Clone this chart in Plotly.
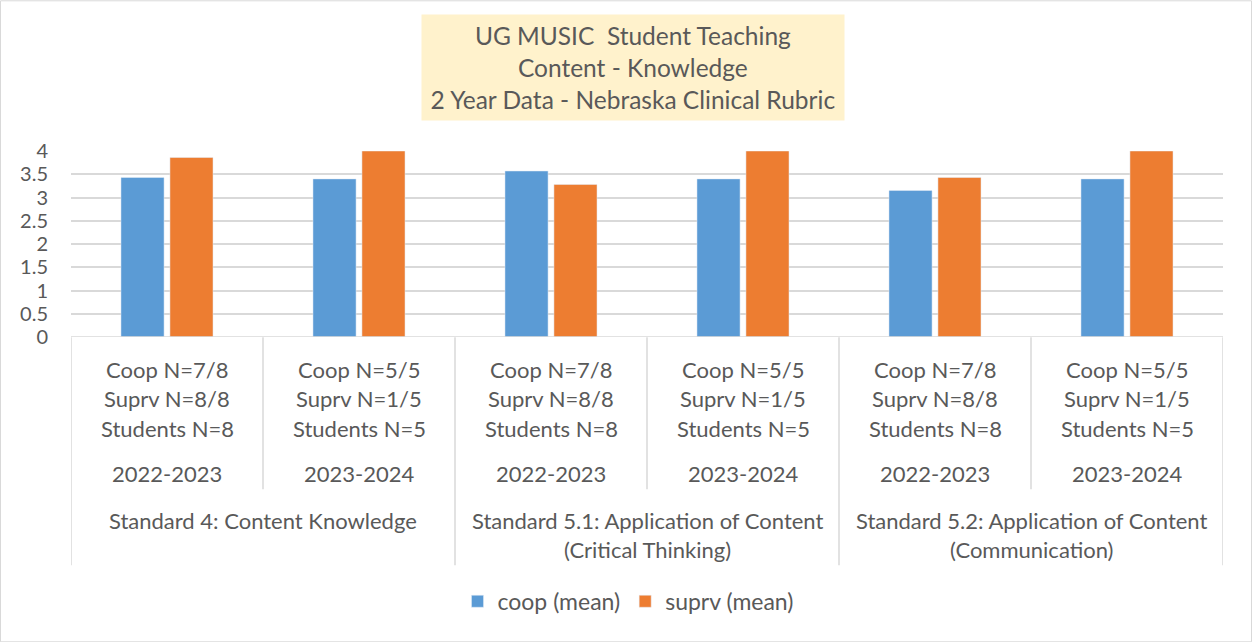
import plotly.graph_objects as go

# ---- data ----
years = ["2022-2023", "2023-2024", "2022-2023", "2023-2024", "2022-2023", "2023-2024"]
n_labels = [
    ["Coop N=7/8", "Suprv N=8/8", "Students N=8"],
    ["Coop N=5/5", "Suprv N=1/5", "Students N=5"],
    ["Coop N=7/8", "Suprv N=8/8", "Students N=8"],
    ["Coop N=5/5", "Suprv N=1/5", "Students N=5"],
    ["Coop N=7/8", "Suprv N=8/8", "Students N=8"],
    ["Coop N=5/5", "Suprv N=1/5", "Students N=5"],
]
standards = [
    ["Standard 4: Content Knowledge"],
    ["Standard 5.1: Application of Content", "(Critical Thinking)"],
    ["Standard 5.2: Application of Content", "(Communication)"],
]
coop_mean = [3.43, 3.40, 3.57, 3.40, 3.15, 3.40]
suprv_mean = [3.86, 4.00, 3.28, 4.00, 3.43, 4.00]
series_names = ["coop (mean)", "suprv (mean)"]
title_lines = ["UG MUSIC  Student Teaching", "Content - Knowledge", "2 Year Data - Nebraska Clinical Rubric"]

# ---- layout geometry (pixels) ----
W, H = 1252, 642
L, R, T, B = 71, 1223, 150.7, 336.7
FONT = "Lato"
TXT = "#595959"
GRID = "#D9D9D9"


def px(xp):
    return (xp - L) / (R - L)


def py(yp):
    return (B - yp) / (B - T)


xs = list(range(len(years)))
fig = go.Figure()
fig.add_trace(go.Bar(x=xs, y=coop_mean, name=series_names[0], marker_color="#5B9BD5"))
fig.add_trace(go.Bar(x=xs, y=suprv_mean, name=series_names[1], marker_color="#ED7D31"))

shapes = []
annotations = []
# axis line at 0
shapes.append(dict(type="line", xref="paper", yref="y", x0=0, x1=1, y0=0, y1=0,
                   line=dict(color=GRID, width=1.5), layer="above"))
# separators of the multi-level category axis
for i in range(len(years) + 1):
    full = (i % 2 == 0)
    y_end = 565 if full else 489
    shapes.append(dict(type="line", xref="x", yref="paper", x0=i - 0.5, x1=i - 0.5,
                       y0=py(337), y1=py(y_end), line=dict(color=GRID, width=1.5)))
# level 1 labels
for i, lines in enumerate(n_labels):
    for j, t in enumerate(lines):
        annotations.append(dict(x=i, y=py(369 + 29.5 * j), xref="x", yref="paper", text=t,
                                showarrow=False, yanchor="middle", xanchor="center",
                                font=dict(family=FONT, size=22, color=TXT)))
    annotations.append(dict(x=i, y=py(473), xref="x", yref="paper", text=years[i],
                            showarrow=False, yanchor="middle", xanchor="center",
                            font=dict(family=FONT, size=22, color=TXT)))
# level 2 labels
for g, lines in enumerate(standards):
    for j, t in enumerate(lines):
        annotations.append(dict(x=2 * g + 0.5, y=py(520 + 29 * j), xref="x", yref="paper", text=t,
                                showarrow=False, yanchor="middle", xanchor="center",
                                font=dict(family=FONT, size=22, color=TXT)))
# title box
annotations.append(dict(x=px(633), y=py(67.5), xref="paper", yref="paper",
                        text="<br>".join(title_lines), showarrow=False,
                        xanchor="center", yanchor="middle", align="center",
                        width=418, height=101, bgcolor="#FFF2CC", borderpad=2,
                        font=dict(family=FONT, size=24.5, color=TXT)))
# outer chart border
shapes.append(dict(type="rect", xref="paper", yref="paper", x0=px(0.5), x1=px(W - 0.5),
                   y0=py(H - 0.5), y1=py(0.5), line=dict(color=GRID, width=1), layer="below"))

fig.update_layout(
    width=W, height=H,
    margin=dict(l=L, r=W - R, t=T, b=H - B),
    paper_bgcolor="white", plot_bgcolor="white",
    barmode="group", bargap=0.49, bargroupgap=0.12,
    showlegend=True,
    legend=dict(orientation="h", x=px(628), xanchor="center", y=py(601), yanchor="middle",
                font=dict(family=FONT, size=23, color=TXT), itemwidth=30),
    xaxis=dict(range=[-0.5, len(years) - 0.5], showticklabels=False, showgrid=False,
               zeroline=False, fixedrange=True),
    yaxis=dict(range=[0, 4], dtick=0.5, tick0=0, showgrid=True, gridcolor=GRID, gridwidth=1.5,
               zeroline=False, ticks="", tickfont=dict(family=FONT, size=20, color=TXT),
               ticklabelstandoff=22),
    shapes=shapes, annotations=annotations,
)

fig.write_html("out.html", config={"displayModeBar": False},
               post_script="document.body.style.margin='0';")
